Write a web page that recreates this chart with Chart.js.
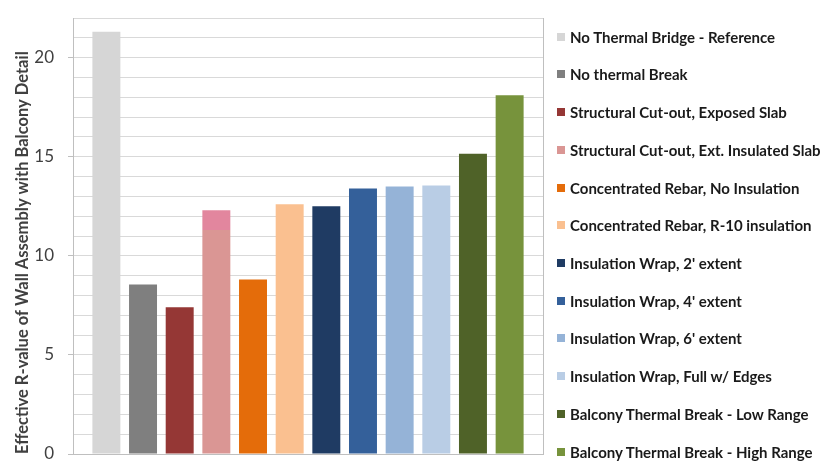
<!DOCTYPE html>
<html><head><meta charset="utf-8">
<script src="https://cdn.jsdelivr.net/npm/chart.js@4.4.0/dist/chart.umd.min.js"></script>
<style>
html,body{margin:0;padding:0;background:#fff;overflow:hidden}
#wrap{position:relative;width:825px;height:466px}
#legend{position:absolute;left:557px;top:17.8px;font-family:Lato,sans-serif;font-weight:700;font-size:15px;color:#1a1a1a}
.row{height:37.73px;display:flex;align-items:center;white-space:nowrap}
.box{width:8px;height:8px;margin-right:5px;flex:none}
</style></head><body>
<div id="wrap"><canvas id="c" width="825" height="466"></canvas><div id="legend"></div></div>
<script>
const seriesNames = [
  "No Thermal Bridge - Reference",
  "No thermal Break",
  "Structural Cut-out, Exposed Slab",
  "Structural Cut-out, Ext. Insulated Slab",
  "Concentrated Rebar, No Insulation",
  "Concentrated Rebar, R-10 insulation",
  "Insulation Wrap, 2' extent",
  "Insulation Wrap, 4' extent",
  "Insulation Wrap, 6' extent",
  "Insulation Wrap, Full w/ Edges",
  "Balcony Thermal Break - Low Range",
  "Balcony Thermal Break - High Range"
];
const rValues = [21.3, 8.55, 7.4, 12.3, 8.8, 12.6, 12.5, 13.4, 13.5, 13.55, 15.15, 18.1];
const seriesColors = ["#d6d6d6","#7f7f7f","#953735","#da9694","#e46c0a","#fac090","#1f3b63","#34609a","#95b3d7","#b9cde5","#4f6228","#77933c"];
const insulatedSlabCapColor = "#e2869e";
const insulatedSlabCapFrom = 11.3;
const majorTicks = [0, 5, 10, 15, 20];
const yTitle = "Effective R-value of Wall Assembly with Balcony Detail";

function slabFill(ctx, base) {
  const chart = ctx.chart;
  const area = chart.chartArea;
  if (!area) return base;
  const y = chart.scales.y.getPixelForValue(insulatedSlabCapFrom);
  const g = chart.ctx.createLinearGradient(0, area.top, 0, area.bottom);
  const t = Math.min(Math.max((y - area.top) / (area.bottom - area.top), 0), 1);
  g.addColorStop(0, insulatedSlabCapColor);
  g.addColorStop(t, insulatedSlabCapColor);
  g.addColorStop(t, base);
  g.addColorStop(1, base);
  return g;
}

const datasets = seriesNames.map((name, i) => ({
  label: name,
  data: [rValues[i]],
  backgroundColor: i === 3 ? (c) => slabFill(c, seriesColors[i]) : seriesColors[i],
  borderWidth: 0
}));

new Chart(document.getElementById('c'), {
  type: 'bar',
  data: { labels: [''], datasets },
  options: {
    responsive: false,
    animation: false,
    layout: { padding: { left: 0, top: 18, right: 282, bottom: 12 } },
    datasets: { bar: { categoryPercentage: 0.936, barPercentage: 0.763 } },
    plugins: { legend: { display: false }, tooltip: { enabled: false } },
    scales: {
      x: {
        type: 'category',
        offset: true,
        ticks: { display: false },
        grid: { offset: true, drawTicks: false, color: '#bfbfbf' },
        border: { color: '#bfbfbf' }
      },
      y: {
        min: 0, max: 22,
        ticks: {
          stepSize: 1, autoSkip: false, padding: 14,
          font: { family: 'Lato', size: 17 }, color: '#404040',
          callback: (v) => majorTicks.includes(v) ? String(v) : ''
        },
        grid: {
          color: '#d9d9d9', tickLength: 5,
          tickColor: (c) => (c.tick && majorTicks.includes(c.tick.value)) ? '#bfbfbf' : 'rgba(0,0,0,0)'
        },
        border: { color: '#bfbfbf' },
        title: {
          display: true, text: yTitle, align: 'start',
          font: { family: 'Lato', size: 16.5, weight: 'bold' }, color: '#404040',
          padding: { top: 12.5, bottom: 0 }
        },
        afterFit(s) { s.width = 73; s.paddingTop = 0; s.paddingBottom = 0; }
      }
    }
  }
});

const legend = document.getElementById('legend');
seriesNames.forEach((name, i) => {
  const row = document.createElement('div');
  row.className = 'row';
  const box = document.createElement('span');
  box.className = 'box';
  box.style.background = seriesColors[i];
  const txt = document.createElement('span');
  txt.textContent = name;
  row.appendChild(box); row.appendChild(txt);
  legend.appendChild(row);
});
</script>
</body></html>
